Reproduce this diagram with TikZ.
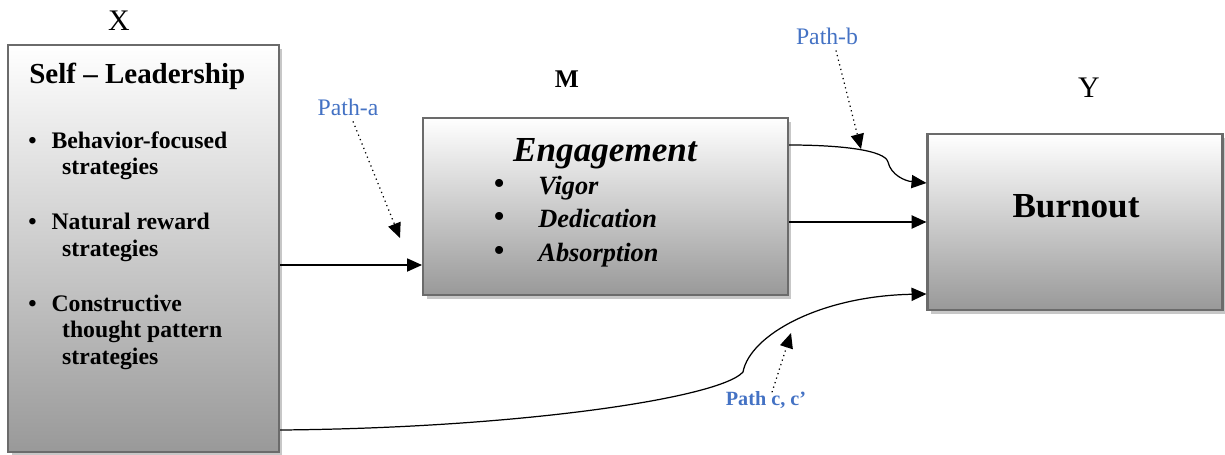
\documentclass[tikz,border=0pt]{standalone}
\usepackage{fontspec}
\setmainfont{Liberation Serif}[BoldFont={Liberation Serif Bold},
  ItalicFont={Liberation Serif Italic}, BoldItalicFont={Liberation Serif Bold Italic}]
\usetikzlibrary{arrows.meta,positioning,shadows}
\definecolor{pathblue}{HTML}{4472C4}
\definecolor{boxline}{HTML}{6B6B6B}

\begin{document}
\begin{tikzpicture}[
  x=0.02cm, y=-0.02cm,
  box/.style    = {rectangle, draw=boxline, line width=1.2pt, inner sep=0pt,
                   top color=white, bottom color=black!40,
                   drop shadow={shadow xshift=2pt, shadow yshift=-2pt,
                                fill=black!22, opacity=1}},
  arr/.style    = {-{Triangle[length=8.5pt,width=7.5pt]}, line width=0.7pt},
  dotarr/.style = {-{Triangle[length=8.5pt,width=7.5pt]}, dotted, line width=0.7pt},
  varlbl/.style = {anchor=base, font=\fontsize{17}{20}\selectfont},
  pathlbl/.style= {anchor=base, text=pathblue, font=\fontsize{13.5}{16}\selectfont},
]
  \useasboundingbox (0,0) rectangle (1225,454);

  % the three boxes
  \node[box, minimum width=5.42cm, minimum height=8.14cm] (lead) at (143.5,248.5) {};
  \node[box, minimum width=7.3cm,  minimum height=3.54cm] (eng)  at (605.5,206.5) {};
  \node[box, minimum width=5.9cm,  minimum height=3.52cm] (burn) at (1075,222) {};

  % variable letters
  \node[varlbl] (xlab) at (119,30) {X};
  \node[varlbl, font=\bfseries\fontsize{14.5}{17}\selectfont] (mlab) at (567,87) {M};
  \node[varlbl] (ylab) at (1089,97) {Y};

  % box texts
  \node[anchor=base west, inner sep=0pt, font=\bfseries\fontsize{16.5}{20}\selectfont]
    (leadtitle) at (29,83) {Self – Leadership};
  \node[anchor=base west, inner sep=0pt, font=\bfseries\fontsize{13.5}{15.2}\selectfont]
    (leaditems) at (28,148) {%
    \begin{tabular}[t]{@{}l@{\hspace{8.5pt}}l@{}}
      \textbullet & Behavior-focused\\
                  & \hspace{6pt}strategies\\[16pt]
      \textbullet & Natural reward\\
                  & \hspace{6pt}strategies\\[16pt]
      \textbullet & Constructive\\
                  & \hspace{6pt}thought pattern\\
                  & \hspace{6pt}strategies
    \end{tabular}};
  \node[anchor=base, font=\bfseries\itshape\fontsize{20}{24}\selectfont]
    (engtitle) at (605,161) {Engagement};
  \node[anchor=base west, inner sep=0pt, font=\bfseries\itshape\fontsize{15}{19.3}\selectfont]
    (engitems) at (493,194) {%
    \begin{tabular}[t]{@{}l@{\hspace{19pt}}l@{}}
      \textnormal{\fontsize{19}{19}\selectfont\textbullet} & Vigor\\
      \textnormal{\fontsize{19}{19}\selectfont\textbullet} & Dedication\\
      \textnormal{\fontsize{19}{19}\selectfont\textbullet} & Absorption
    \end{tabular}};
  \node[anchor=base, font=\bfseries\fontsize{20}{24}\selectfont]
    (burntitle) at (1076,217) {Burnout};

  % path labels
  \node[pathlbl] (patha) at (348,115) {Path-a};
  \node[pathlbl] (pathb) at (827,44) {Path-b};
  \node[pathlbl, font=\bfseries\fontsize{11.5}{14}\selectfont] (pathc) at (766,405) {Path c, c’};

  % connectors
  \coordinate (ya) at (0,265);
  \coordinate (yb) at (0,145);
  \coordinate (yc) at (0,430);
  \draw[arr] (lead.east |- ya) -- (eng.west |- ya);
  \draw[arr, line width=1.1pt] (eng.east |- burn.west) -- (burn.west);
  \draw[arr] (eng.east |- yb) .. controls (840,145) and (885,150) .. (888,162)
             .. controls (891,175) and (905,181) .. (burn.west |- 0,183);
  \draw[arr] (lead.east |- yc) .. controls (520,428) and (720,398) .. (743,372)
             .. controls (750,335) and (820,296) .. (burn.west |- 0,294);

  % pointers from the path labels
  \coordinate (tipa) at (400,238);
  \coordinate (tipb) at (861,149);
  \coordinate (tipc) at (791,333);
  \draw[dotarr] ([xshift=0.1cm]patha.south) -- (tipa);
  \draw[dotarr] ([xshift=0.18cm]pathb.south) -- (tipb);
  \draw[dotarr] ([xshift=0.12cm, yshift=-0.15cm]pathc.north) -- (tipc);
\end{tikzpicture}
\end{document}
